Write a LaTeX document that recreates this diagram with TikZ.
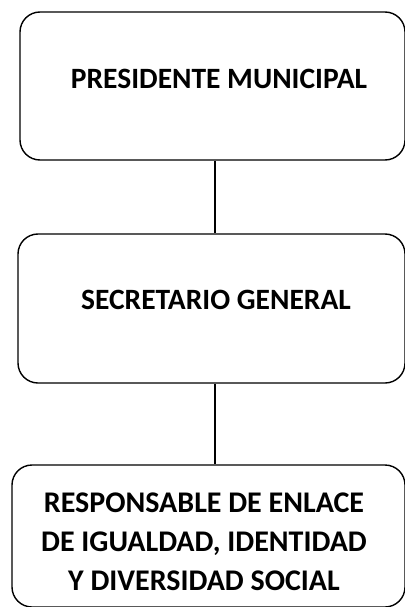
\documentclass[tikz,border=0pt]{standalone}
\usepackage{fontspec}
\setmainfont{Carlito}
\usetikzlibrary{positioning,calc}

\begin{document}
\begin{tikzpicture}[x=1pt,y=-1pt,
		cargo/.style={draw=black,line width=1.4pt,rounded corners=20pt,fill=white},
		titulo/.style={font=\bfseries\fontsize{29.5}{39}\selectfont,align=center,inner sep=0pt}]
			\useasboundingbox (0,0) rectangle (404,607);
			\node[cargo,minimum width=385pt,minimum height=148pt] (b1) at (212.5,86) {};
			\node[cargo,minimum width=387pt,minimum height=149pt] (b2) at (211.5,308.5) {};
			\node[cargo,minimum width=393pt,minimum height=142pt] (b3) at (208.5,536) {};
			\node[titulo] (t1) at (219,79) {PRESIDENTE MUNICIPAL};
			\node[titulo] (t2) at (216,300) {SECRETARIO GENERAL};
			\node[titulo,font=\bfseries\fontsize{30}{39}\selectfont] (t3) at (204,542) {RESPONSABLE DE ENLACE\\DE IGUALDAD, IDENTIDAD\\Y DIVERSIDAD SOCIAL};
			\coordinate (eje) at (215,0);
			\foreach \i/\j in {b1/b2,b2/b3}{
					\draw[line width=1.4pt] (\i.south -| eje) -- (\j.north -| eje);
				}
		\end{tikzpicture}
\end{document}
